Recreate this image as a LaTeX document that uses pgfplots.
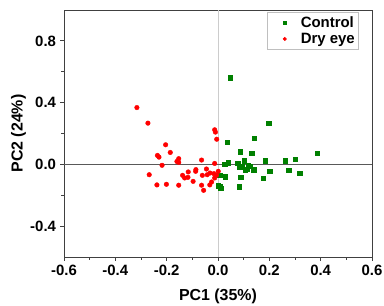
\documentclass[border=0pt]{standalone}
\usepackage{pgfplots}
\pgfplotsset{compat=1.18}
\usepackage{fontspec}
\setmainfont{Liberation Sans}
\definecolor{cgreen}{RGB}{0,128,0}
\definecolor{cred}{RGB}{255,0,0}
\begin{document}
\begin{tikzpicture}
\useasboundingbox (-64bp,-49bp) rectangle (320bp,257bp);
\begin{axis}[
  scale only axis,
  width=308bp, height=247bp,
  anchor=south west, at={(0,0)},
  xmin=-0.6, xmax=0.6, ymin=-0.6, ymax=1.0,
  xtick={-0.6,-0.4,...,0.61}, ytick={-0.4,0,0.4,0.8},
  minor x tick num=1, minor y tick num=1,
  tick align=outside,
  xtick pos=bottom, ytick pos=left,
  major tick length=3.5bp, minor tick length=2.5bp,
  axis line style={black!75, line width=0.9bp},
  every tick/.style={black!75, line width=0.8bp},
  /pgf/number format/assume math mode=true,
  /pgf/number format/fixed, /pgf/number format/fixed zerofill, /pgf/number format/precision=1,
  tick label style={font=\fontsize{15}{17}\selectfont\bfseries},
  xticklabel style={yshift=-1bp},
  yticklabel style={xshift=-1bp},
  xlabel={PC1 (35\%)}, ylabel={PC2 (24\%)},
  label style={font=\fontsize{16}{18}\selectfont\bfseries},
  xlabel style={at={(axis description cs:0.5,-0.16)}, anchor=center},
  ylabel style={at={(axis description cs:-0.148,0.5)}, anchor=center, rotate=0},
  legend style={at={(axis description cs:0.958,0.99)}, anchor=north east,
    draw=black!25, line width=0.6bp, font=\fontsize{15}{17}\selectfont\bfseries,
    inner xsep=2bp, inner ysep=2bp, row sep=0bp,
    nodes={inner sep=2bp}},
  legend image code/.code={\path[draw=none,fill=none] (0,0) -- (29bp,0); \draw[#1, mark size=1.6bp] plot coordinates {(15bp,0bp)};},
  legend cell align=left,
  clip=false,
]
\draw[black!20, line width=0.8bp] (axis cs:0,-0.6) -- (axis cs:0,1.0);
\draw[black!65, line width=0.7bp] (axis cs:-0.6,0) -- (axis cs:0.6,0);
\addplot[only marks, mark=square*, mark size=2.2bp, color=cgreen,
  mark options={fill=cgreen}] coordinates {
(0.048,0.561) (0.197,0.265) (0.140,0.170) (0.036,0.142) (0.087,0.082)
(0.132,0.071) (0.387,0.073) (0.301,0.034) (0.262,0.024) (0.184,0.024)
(0.101,0.024) (0.040,0.011) (0.026,0.000) (0.077,0.006) (0.117,-0.006)
(0.084,-0.019) (0.106,-0.039) (0.139,-0.034) (0.201,-0.045) (0.275,-0.037)
(0.318,-0.058) (0.029,-0.080) (0.088,-0.084) (0.006,-0.071) (0.177,-0.090)
(0.006,-0.142) (0.010,-0.155) (0.083,-0.144) (0.000,-0.138) (0.112,-0.030)
(0.125,-0.010) (0.094,-0.010)
};
\addlegendentry{Control}
\addplot[only marks, mark=*, mark size=2.3bp, color=cred,
  mark options={fill=cred}] coordinates {
(-0.316,0.368) (-0.273,0.267) (-0.013,0.224) (-0.010,0.209) (-0.005,0.163)
(-0.204,0.127) (-0.186,0.077) (-0.236,0.058) (-0.230,0.047) (-0.218,-0.006)
(-0.153,0.037) (-0.160,0.019) (-0.153,0.013) (-0.064,0.028) (-0.013,0.006)
(-0.268,-0.067) (-0.238,-0.133) (-0.201,-0.129) (-0.153,-0.135) (-0.138,-0.071)
(-0.130,-0.088) (-0.116,-0.049) (-0.117,-0.084) (-0.097,-0.110) (-0.086,-0.034)
(-0.087,-0.045) (-0.061,-0.071) (-0.064,-0.135) (-0.056,-0.168) (-0.045,-0.030)
(-0.042,-0.067) (-0.031,-0.056) (-0.032,-0.133) (-0.025,-0.114) (-0.016,-0.060)
(-0.006,-0.071) (-0.013,-0.088) (0.001,-0.045)
};
\addlegendentry{Dry eye}
\end{axis}
\end{tikzpicture}
\end{document}
